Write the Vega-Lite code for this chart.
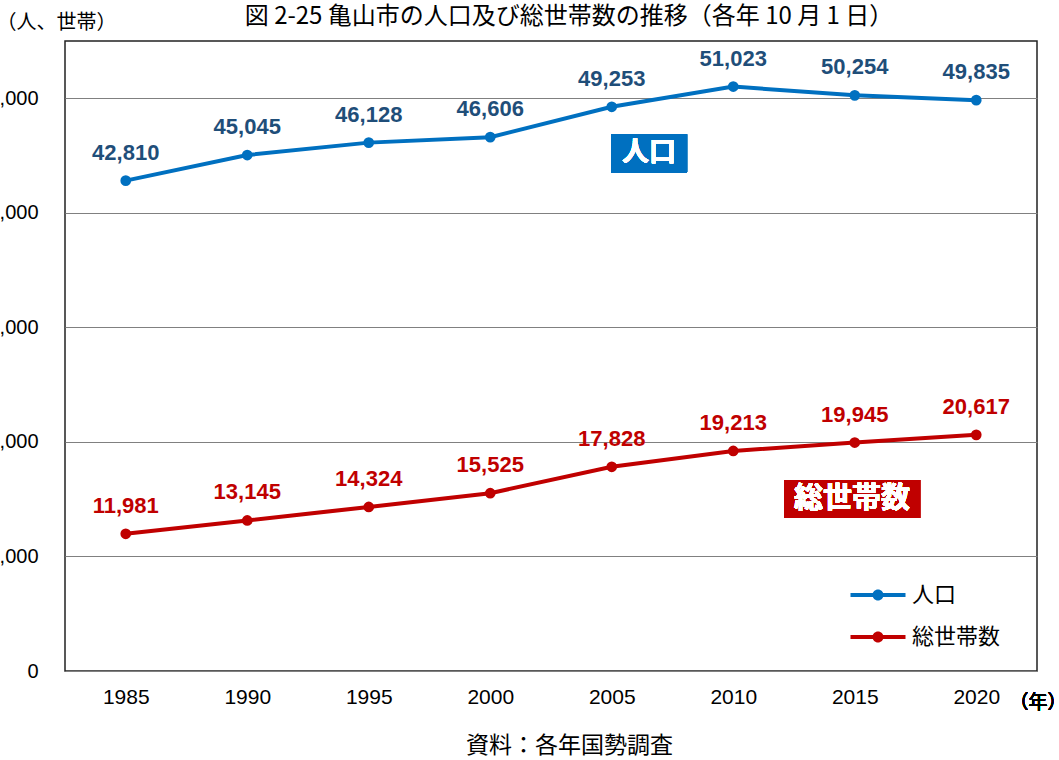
{
  "$schema": "https://vega.github.io/schema/vega-lite/v6.json",
  "width": 972,
  "height": 630,
  "autosize": {"type": "none"},
  "padding": {"left": 65, "top": 41, "right": 22, "bottom": 89},
  "background": "white",
  "title": {
    "text": "図 2-25 亀山市の人口及び総世帯数の推移（各年 10 月 1 日）",
    "font": "Noto Sans CJK JP",
    "fontSize": 24,
    "fontWeight": "normal",
    "color": "#000000",
    "anchor": "middle",
    "baseline": "middle",
    "dx": 18,
    "offset": -29
  },
  "config": {
    "view": {"stroke": "#222222", "strokeWidth": 1.5},
    "axisX": {
      "labelFont": "Liberation Sans",
      "labelFontSize": 21,
      "labelColor": "#000000",
      "labelPadding": 15,
      "ticks": false,
      "domain": false,
      "grid": false,
      "titleFont": "Noto Sans CJK JP",
      "titleFontSize": 23,
      "titleFontWeight": "normal",
      "titleColor": "#000000"
    },
    "axisY": {
      "labelFont": "Liberation Sans",
      "labelFontSize": 20,
      "labelColor": "#000000",
      "labelPadding": 27,
      "ticks": false,
      "domain": false,
      "grid": true,
      "gridColor": "#808080",
      "gridWidth": 1,
      "titleFont": "Noto Sans CJK JP",
      "titleFontSize": 20,
      "titleFontWeight": "normal",
      "titleColor": "#000000"
    },
    "legend": {
      "orient": "none",
      "legendX": 802,
      "legendY": 543,
      "symbolType": "M-2.75,-0.2 L2.75,-0.2 L2.75,0.2 L-2.75,0.2 Z M0.55,0 A0.55,0.55 0 1,1 -0.55,0 A0.55,0.55 0 1,1 0.55,0 Z",
      "symbolSize": 400,
      "symbolStrokeWidth": 0,
      "labelFont": "Noto Sans CJK JP",
      "labelFontSize": 22,
      "labelColor": "#000000",
      "labelOffset": 23,
      "rowPadding": 20
    }
  },
  "data": {
    "values": [
      {"year": 1985, "series": "人口", "value": 42810},
      {"year": 1990, "series": "人口", "value": 45045},
      {"year": 1995, "series": "人口", "value": 46128},
      {"year": 2000, "series": "人口", "value": 46606},
      {"year": 2005, "series": "人口", "value": 49253},
      {"year": 2010, "series": "人口", "value": 51023},
      {"year": 2015, "series": "人口", "value": 50254},
      {"year": 2020, "series": "人口", "value": 49835},
      {"year": 1985, "series": "総世帯数", "value": 11981},
      {"year": 1990, "series": "総世帯数", "value": 13145},
      {"year": 1995, "series": "総世帯数", "value": 14324},
      {"year": 2000, "series": "総世帯数", "value": 15525},
      {"year": 2005, "series": "総世帯数", "value": 17828},
      {"year": 2010, "series": "総世帯数", "value": 19213},
      {"year": 2015, "series": "総世帯数", "value": 19945},
      {"year": 2020, "series": "総世帯数", "value": 20617}
    ]
  },
  "encoding": {
    "x": {
      "field": "year",
      "type": "quantitative",
      "scale": {"domain": [1982.5, 2022.5], "nice": false, "zero": false},
      "axis": {
        "values": [1985, 1990, 1995, 2000, 2005, 2010, 2015, 2020],
        "labelExpr": "format(datum.value, 'd')",
        "title": "資料：各年国勢調査",
        "titleX": 504,
        "titleY": 74,
        "titleAlign": "center",
        "titleAnchor": null,
        "titleBaseline": "middle"
      }
    },
    "y": {
      "field": "value",
      "type": "quantitative",
      "scale": {"domain": [0, 55000], "nice": false},
      "axis": {
        "values": [0, 10000, 20000, 30000, 40000, 50000],
        "labelExpr": "format(datum.value, ',')",
        "title": "（人、世帯）",
        "titleAngle": 0,
        "titleX": -9,
        "titleY": -19,
        "titleAlign": "center",
        "titleBaseline": "middle"
      }
    }
  },
  "layer": [
    {
      "mark": {"type": "rect", "color": "#0070C0"},
      "encoding": {
        "x": {"datum": 2004.97},
        "x2": {"datum": 2008.1},
        "y": {"datum": 43543},
        "y2": {"datum": 46859}
      }
    },
    {
      "mark": {"type": "rect", "color": "#C00000"},
      "encoding": {
        "x": {"datum": 2012.09},
        "x2": {"datum": 2017.69},
        "y": {"datum": 13351},
        "y2": {"datum": 16667}
      }
    },
    {
      "mark": {"type": "text", "color": "#FFFFFF", "font": "Noto Sans CJK JP", "fontWeight": "bold", "fontSize": 27, "align": "center", "baseline": "middle"},
      "encoding": {
        "x": {"datum": 2006.53},
        "y": {"datum": 45200},
        "text": {"value": "人口"}
      }
    },
    {
      "mark": {"type": "text", "color": "#FFFFFF", "font": "Noto Sans CJK JP", "fontWeight": "bold", "fontSize": 29, "align": "center", "baseline": "middle"},
      "encoding": {
        "x": {"datum": 2014.89},
        "y": {"datum": 15009},
        "text": {"value": "総世帯数"}
      }
    },
    {
      "mark": {"type": "line", "strokeWidth": 4},
      "encoding": {
        "color": {
          "field": "series",
          "type": "nominal",
          "scale": {"domain": ["人口", "総世帯数"], "range": ["#0070C0", "#C00000"]},
          "legend": {
            "title": null,
            "encode": {"symbols": {"update": {"fill": {"scale": "color", "field": "value"}, "stroke": {"value": "transparent"}, "opacity": {"value": 1}}}}
          }
        }
      }
    },
    {
      "mark": {"type": "point", "filled": true, "size": 115, "opacity": 1},
      "encoding": {
        "color": {"field": "series", "type": "nominal"}
      }
    },
    {
      "mark": {"type": "text", "font": "Liberation Sans", "fontWeight": "bold", "fontSize": 22, "align": "center", "baseline": "middle", "dy": -28},
      "encoding": {
        "text": {"field": "value", "type": "quantitative", "format": ","},
        "color": {"condition": {"test": "datum.series === '人口'", "value": "#1F4E79"}, "value": "#C00000"}
      }
    },
    {
      "mark": {"type": "text", "font": "Noto Sans CJK JP", "fontSize": 19, "fontWeight": "normal", "align": "center", "baseline": "middle", "color": "#000000"},
      "encoding": {
        "x": {"datum": 2022.54},
        "y": {"datum": -2790},
        "text": {"value": "（年）"}
      }
    }
  ]
}
